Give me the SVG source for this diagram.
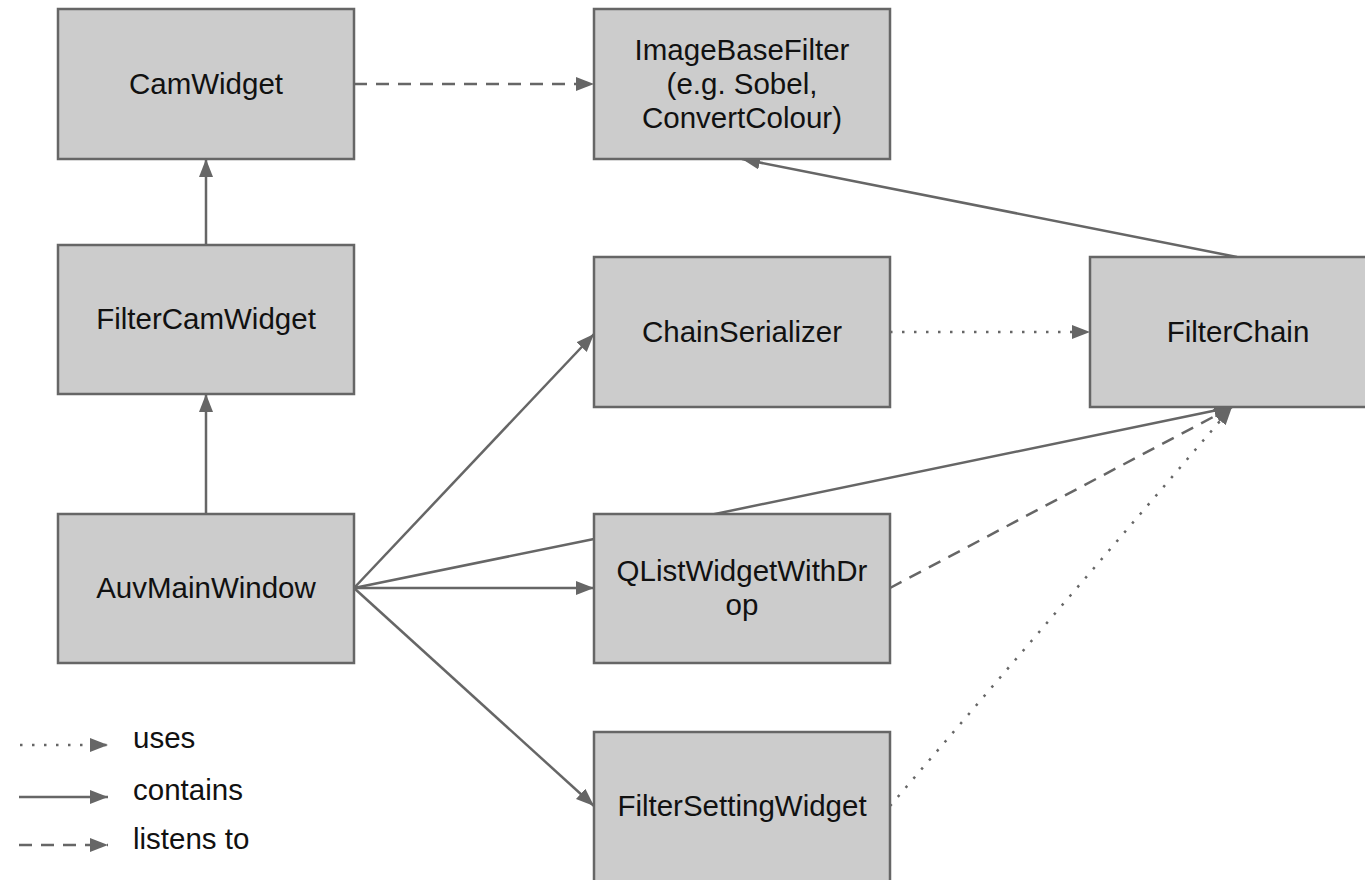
<svg xmlns="http://www.w3.org/2000/svg" width="1365" height="880" viewBox="0 0 1365 880">
  <defs>
    <marker id="head" markerUnits="userSpaceOnUse" markerWidth="20" markerHeight="16" refX="18" refY="7" orient="auto">
      <path d="M0,0 L18,7 L0,14 z" fill="#666666"/>
    </marker>
    <style>
      .edge { fill: none; stroke: #666666; stroke-width: 2.5; }
      .contains { }
      .listens { stroke-dasharray: 13 9; }
      .uses { stroke-dasharray: 2.5 9.5; }
      .box { fill: #cccccc; stroke: #666666; stroke-width: 2.5; }
      .label { font-family: "Liberation Sans", Arial, sans-serif; font-size: 29.5px; fill: #111111; text-anchor: middle; }
      .legend { font-family: "Liberation Sans", Arial, sans-serif; font-size: 29.5px; fill: #111111; }
    </style>
  </defs>
  <rect width="1365" height="880" fill="#ffffff"/>

  <!-- connectors (drawn beneath the boxes) -->
  <g id="connectors">
    <line class="edge listens" x1="354" y1="84" x2="594" y2="84" marker-end="url(#head)"/>
    <line class="edge contains" x1="206" y1="245" x2="206" y2="159" marker-end="url(#head)"/>
    <line class="edge contains" x1="206" y1="514" x2="206" y2="394" marker-end="url(#head)"/>
    <line class="edge contains" x1="1237" y1="257" x2="742" y2="159" marker-end="url(#head)"/>
    <line class="edge uses" x1="890" y1="332" x2="1090" y2="332" marker-end="url(#head)"/>
    <line class="edge contains" x1="354" y1="588" x2="594" y2="334" marker-end="url(#head)"/>
    <line class="edge contains" x1="354" y1="588" x2="594" y2="588" marker-end="url(#head)"/>
    <line class="edge contains" x1="354" y1="588" x2="594" y2="806" marker-end="url(#head)"/>
    <polyline class="edge contains" points="354,588 594,539 1232,407" marker-end="url(#head)"/>
    <line class="edge listens" x1="890" y1="588" x2="1232" y2="407" marker-end="url(#head)"/>
    <line class="edge uses" x1="890" y1="806" x2="1232" y2="407" marker-end="url(#head)"/>
  </g>

  <g id="CamWidget">
    <rect class="box" x="58" y="9" width="296" height="150"/>
    <text class="label" x="206" y="94">CamWidget</text>
  </g>
  <g id="ImageBaseFilter">
    <rect class="box" x="594" y="9" width="296" height="150"/>
    <text class="label" x="742" y="60">ImageBaseFilter</text>
    <text class="label" x="742" y="94">(e.g. Sobel,</text>
    <text class="label" x="742" y="128">ConvertColour)</text>
  </g>
  <g id="FilterCamWidget">
    <rect class="box" x="58" y="245" width="296" height="149"/>
    <text class="label" x="206" y="329">FilterCamWidget</text>
  </g>
  <g id="AuvMainWindow">
    <rect class="box" x="58" y="514" width="296" height="149"/>
    <text class="label" x="206" y="598">AuvMainWindow</text>
  </g>
  <g id="ChainSerializer">
    <rect class="box" x="594" y="257" width="296" height="150"/>
    <text class="label" x="742" y="342">ChainSerializer</text>
  </g>
  <g id="FilterChain">
    <rect class="box" x="1090" y="257" width="296" height="150"/>
    <text class="label" x="1238" y="342">FilterChain</text>
  </g>
  <g id="QListWidgetWithDrop">
    <rect class="box" x="594" y="514" width="296" height="149"/>
    <text class="label" x="742" y="581">QListWidgetWithDr</text>
    <text class="label" x="742" y="615">op</text>
  </g>
  <g id="FilterSettingWidget">
    <rect class="box" x="594" y="732" width="296" height="150"/>
    <text class="label" x="742" y="816">FilterSettingWidget</text>
  </g>

  <!-- legend -->
  <g id="legend">
    <line class="edge uses" x1="20" y1="745" x2="108" y2="745" marker-end="url(#head)"/>
    <text class="legend" x="133" y="748">uses</text>
    <line class="edge contains" x1="19" y1="797" x2="108" y2="797" marker-end="url(#head)"/>
    <text class="legend" x="133" y="800">contains</text>
    <line class="edge listens" x1="19" y1="845" x2="108" y2="845" marker-end="url(#head)"/>
    <text class="legend" x="133" y="849">listens to</text>
  </g>
</svg>
